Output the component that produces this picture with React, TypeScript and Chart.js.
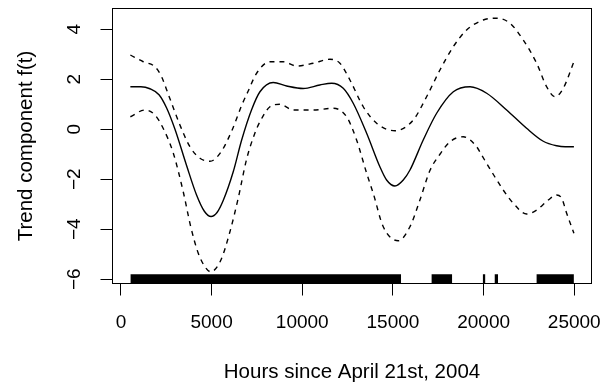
import React, { useEffect, useRef } from "react";
import { Chart, registerables } from "chart.js";

Chart.register(...registerables);

// ---- data ----
const fitX = [520, 1100, 1600, 2100, 2520, 2980, 3620, 4170, 4600, 4970, 5300, 5640, 6193, 6650, 7200, 7666, 8400, 9140, 10050, 10970, 11620, 12260, 12810, 13550, 14280, 14650, 15110, 15570, 15940, 16670, 17410, 18330, 19250, 20170, 21270, 22370, 23290, 24030, 24500, 24980];
const fitY = [1.7, 1.7, 1.62, 1.38, 0.85, 0.0, -1.45, -2.63, -3.28, -3.49, -3.33, -2.85, -1.7, -0.45, 0.77, 1.5, 1.87, 1.73, 1.63, 1.77, 1.84, 1.64, 1.04, -0.16, -1.5, -2.03, -2.27, -2.03, -1.63, -0.43, 0.64, 1.5, 1.7, 1.44, 0.77, 0.04, -0.48, -0.66, -0.7, -0.7];

const upperX = [520, 1230, 1875, 2243, 2610, 3254, 3805, 4357, 4908, 5500, 6150, 6656, 7000, 7483, 8217, 8951, 9689, 10605, 11526, 12077, 12629, 13364, 14100, 15110, 16120, 16856, 17592, 18327, 19063, 19980, 20719, 21453, 22186, 22925, 23476, 23934, 24393, 24980];
const upperY = [2.97, 2.7, 2.5, 2.1, 1.4, 0.17, -0.7, -1.16, -1.28, -0.93, 0.0, 0.95, 1.5, 2.24, 2.7, 2.7, 2.53, 2.64, 2.8, 2.64, 1.97, 0.9, 0.24, -0.06, 0.37, 1.3, 2.37, 3.3, 3.97, 4.37, 4.44, 4.24, 3.57, 2.64, 1.7, 1.3, 1.64, 2.7];

const lowerX = [520, 1324, 1875, 2334, 2885, 3436, 3850, 4260, 4632, 4950, 5500, 6011, 6470, 6930, 7390, 7666, 8217, 8768, 9503, 10605, 11708, 12444, 12996, 13550, 13912, 14466, 15293, 15937, 16488, 17040, 17592, 18144, 18878, 19616, 19890, 20531, 21100, 21634, 22374, 22925, 23565, 24029, 24305, 24580, 24980];
const lowerY = [0.5, 0.77, 0.57, 0.03, -0.95, -2.5, -3.9, -4.95, -5.5, -5.7, -5.25, -4.1, -2.75, -1.2, -0.15, 0.3, 0.9, 1.0, 0.77, 0.77, 0.84, 0.5, -0.43, -1.76, -2.56, -3.9, -4.46, -3.9, -2.83, -1.65, -1.0, -0.5, -0.3, -0.7, -1.03, -1.8, -2.45, -2.96, -3.39, -3.23, -2.83, -2.63, -2.76, -3.36, -4.16];

// rug of observation times (dense blocks)
const rugStart = [520, 17120, 19950, 20600, 22910];
const rugEnd = [15450, 18270, 20100, 20800, 24980];
const rugTop = -5.8;

const xTicks = [0, 5000, 10000, 15000, 20000, 25000];
const yTicks = [-6, -4, -2, 0, 2, 4];
const xTitle = "Hours since April 21st, 2004";
const yTitle = "Trend component f(t)";

const X_MIN = -465;
const X_MAX = 25950;
const Y_MIN = -6.17;
const Y_MAX = 4.83;

const FONT = "'Liberation Sans', Arial, Helvetica, sans-serif";
const FS = 19;
const FS_TITLE = 20.5;

const toPts = (xs: number[], ys: number[]) => xs.map((x, i) => ({ x, y: ys[i] }));

const boxPlugin = {
  id: "box",
  afterDraw(chart: any) {
    const { ctx, chartArea } = chart;
    ctx.save();
    ctx.strokeStyle = "#000";
    ctx.lineWidth = 1;
    ctx.strokeRect(chartArea.left, chartArea.top, chartArea.right - chartArea.left, chartArea.bottom - chartArea.top);
    ctx.restore();
  },
};

const zeroPad = (s: any) => {
  s.paddingLeft = 0;
  s.paddingRight = 0;
  s.paddingTop = 0;
  s.paddingBottom = 0;
};

export default function App() {
  const ref = useRef<HTMLCanvasElement | null>(null);

  useEffect(() => {
    if (!ref.current) return;
    const rugSets = rugStart.map((s, i) => ({
      data: [
        { x: s, y: rugTop },
        { x: rugEnd[i], y: rugTop },
      ],
      borderWidth: 0,
      pointRadius: 0,
      fill: "start",
      backgroundColor: "#000",
      borderColor: "#000",
    }));

    const lineStyle = {
      borderColor: "#000",
      borderWidth: 1.4,
      pointRadius: 0,
      cubicInterpolationMode: "monotone",
      fill: false,
    };

    const chart = new Chart(ref.current, {
      type: "line",
      data: {
        datasets: [
          { data: toPts(fitX, fitY), ...lineStyle },
          { data: toPts(upperX, upperY), ...lineStyle, borderDash: [5, 5] },
          { data: toPts(lowerX, lowerY), ...lineStyle, borderDash: [5, 5] },
          ...rugSets,
        ] as any,
      },
      options: {
        animation: false,
        responsive: false,
        devicePixelRatio: 1,
        layout: { padding: { top: 8.5, right: 18.5, left: 0, bottom: 0 } },
        plugins: { legend: { display: false }, tooltip: { enabled: false } },
        scales: {
          x: {
            type: "linear",
            min: X_MIN,
            max: X_MAX,
            afterBuildTicks: (s: any) => {
              s.ticks = xTicks.map((v) => ({ value: v }));
            },
            afterFit: (s: any) => {
              s.height = 102.5;
              zeroPad(s);
            },
            grid: { drawOnChartArea: false, drawTicks: true, tickLength: 12, color: "#000", lineWidth: 1 },
            border: { display: true, color: "#000", width: 1 },
            ticks: {
              color: "#000",
              font: { family: FONT, size: FS },
              padding: 15.8,
              maxRotation: 0,
              autoSkip: false,
              callback: (v: any) => String(v),
            },
            title: {
              display: true,
              text: xTitle,
              color: "#000",
              font: { family: FONT, size: FS_TITLE },
              padding: { top: 0, bottom: 1.5 },
            },
          },
          y: {
            type: "linear",
            min: Y_MIN,
            max: Y_MAX,
            afterBuildTicks: (s: any) => {
              s.ticks = yTicks.map((v) => ({ value: v }));
            },
            afterFit: (s: any) => {
              s.width = 112.5;
              zeroPad(s);
            },
            grid: { drawOnChartArea: false, drawTicks: true, tickLength: 12, color: "#000", lineWidth: 1 },
            border: { display: true, color: "#000", width: 1 },
            ticks: {
              color: "#000",
              font: { family: FONT, size: FS },
              padding: 14.5,
              minRotation: 90,
              maxRotation: 90,
              crossAlign: "center",
              autoSkip: false,
              callback: (v: any) => (v < 0 ? "\u2212" + Math.abs(v) : String(v)),
            },
            title: {
              display: true,
              text: yTitle,
              color: "#000",
              font: { family: FONT, size: FS_TITLE },
              padding: { top: 14, bottom: 0 },
            },
          },
        },
      } as any,
      plugins: [boxPlugin],
    });
    return () => chart.destroy();
  }, []);

  return (
    <div style={{ position: "fixed", left: 0, top: 0, width: 610, height: 386, background: "#fff" }}>
      <canvas ref={ref} width={610} height={386} style={{ display: "block", width: 610, height: 386 }} />
    </div>
  );
}
